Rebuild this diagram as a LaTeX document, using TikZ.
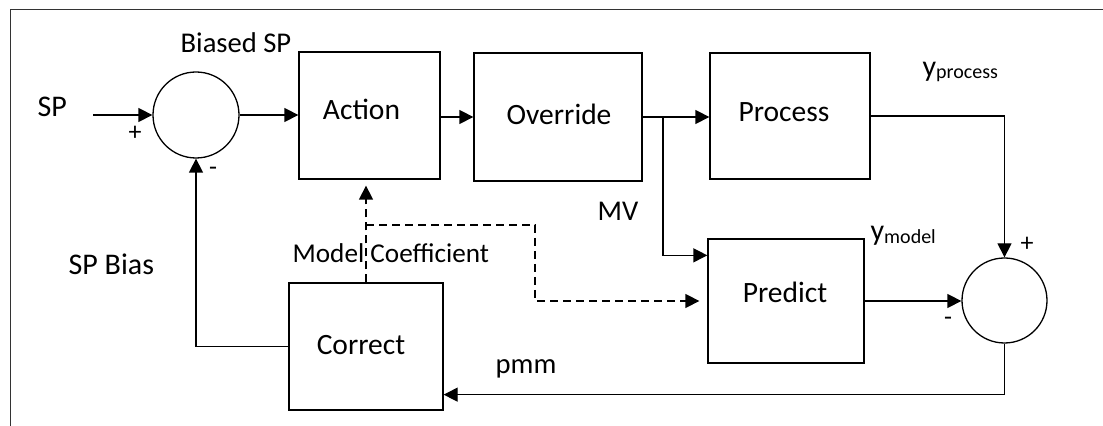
\documentclass[tikz,border=0pt]{standalone}
\usepackage{fontspec}
\setmainfont{Carlito}
\usetikzlibrary{arrows.meta}

\begin{document}
\begin{tikzpicture}[x=0.5pt, y=-0.5pt,
  line width=0.65pt,
  blk/.style={draw, rectangle, inner sep=0pt},
  sumj/.style={draw, circle, inner sep=0pt, minimum size=#1},
  arr/.style={-{Triangle[length=7pt, width=7pt]}},
  dsh/.style={dash pattern=on 4pt off 2.5pt},
  frame/.style={line width=0.5pt, black!80},
  boxtxt/.style={anchor=base, inner sep=0pt, font=\fontsize{14.75}{17}\selectfont},
  lbl/.style={anchor=base west, inner sep=0pt, font=\fontsize{14.3}{17}\selectfont},
  sgn/.style={inner sep=0pt, font=\fontsize{13}{15}\selectfont},
  ysym/.style={anchor=base west, inner sep=0pt, font=\fontsize{15}{17}\selectfont}]

\useasboundingbox (0,0) rectangle (1103,426);

% outer frame (top and left edges)
\draw[frame] (1103,10) -- (10,10) -- (10,426);

% summing junctions
\node[sumj=43pt] (sum1) at (196,115) {};
\node[sumj=42.5pt] (sum2) at (1004.5,300.5) {};

% blocks
\node[blk, minimum width=70.5pt, minimum height=63.5pt] (action)   at (369.5,115.5) {};
\node[blk, minimum width=84pt,   minimum height=64pt]   (override) at (558,117) {};
\node[blk, minimum width=80pt,   minimum height=63pt]   (process)  at (790,116) {};
\node[blk, minimum width=78pt,   minimum height=62pt]   (predict)  at (786,301) {};
\node[blk, minimum width=77pt,   minimum height=63.5pt] (correct)  at (366,346.5) {};

% block titles
\node[boxtxt] (action-t)   at (361.5,120) {Action};
\node[boxtxt] (override-t) at (559,124.3) {Override};
\node[boxtxt] (process-t)  at (784,121.7) {Process};
\node[boxtxt] (predict-t)  at (785,302.7) {Predict};
\node[boxtxt] (correct-t)  at (361,355) {Correct};

% helper points
\coordinate (spin) at (93,115);
\coordinate (mvsplit) at (663,117);
\coordinate (mvin) at ([yshift=-8.5pt]predict.north west);
\coordinate (pmmin) at ([yshift=8pt]correct.south east);
\coordinate (mcsplit) at (correct.north |- 0,225);
\coordinate (mcturn) at (535,225);

% main signal path
\draw[arr] (spin) -- (sum1.west);
\draw[arr] (sum1.east) -- (sum1.east -| action.west);
\draw[arr] (action.east |- override.west) -- (override.west);
\draw[arr] (override.east) -- (override.east -| process.west);
\draw[arr] (mvsplit) |- (mvin);
\draw[arr] (process.east) -| (sum2.north);
\draw[arr] (predict.east) -- (predict.east -| sum2.west);
\draw[arr] (sum2.south) |- (pmmin);
\draw[arr] (correct.west) -| (sum1.south);

% model coefficient updates
\draw[arr, dsh, shorten >=3pt] (correct.north) -- (correct.north |- action.south);
\draw[arr, dsh, shorten >=4pt] (mcsplit) -- (mcturn) |- (predict.west);

% signal labels
\node[lbl] (biasedsp) at (180,53) {Biased SP};
\node[lbl, font=\fontsize{15}{17}\selectfont] (sp) at (37,117) {SP};
\node[lbl, font=\fontsize{15}{17}\selectfont] (spbias) at (68,275) {SP Bias};
\node[lbl, font=\fontsize{13.6}{16}\selectfont] (mcoef) at (292,263) {Model Coefficient};
\node[lbl] (mv) at (597,221) {MV};
\node[lbl] (pmm) at (495,374) {pmm};
\node[ysym] (yproc) at (922,77) {y\raisebox{-1pt}{\fontsize{10}{12}\selectfont process}};
\node[ysym] (ymod) at (870,241) {y\raisebox{-1.5pt}{\fontsize{10}{12}\selectfont model}};

% junction signs
\node[sgn] (s1p) at (135,133) {+};
\node[sgn] (s1m) at (213,171) {-};
\node[sgn] (s2p) at (1027,244) {+};
\node[sgn] (s2m) at (948,321) {-};

\end{tikzpicture}
\end{document}
